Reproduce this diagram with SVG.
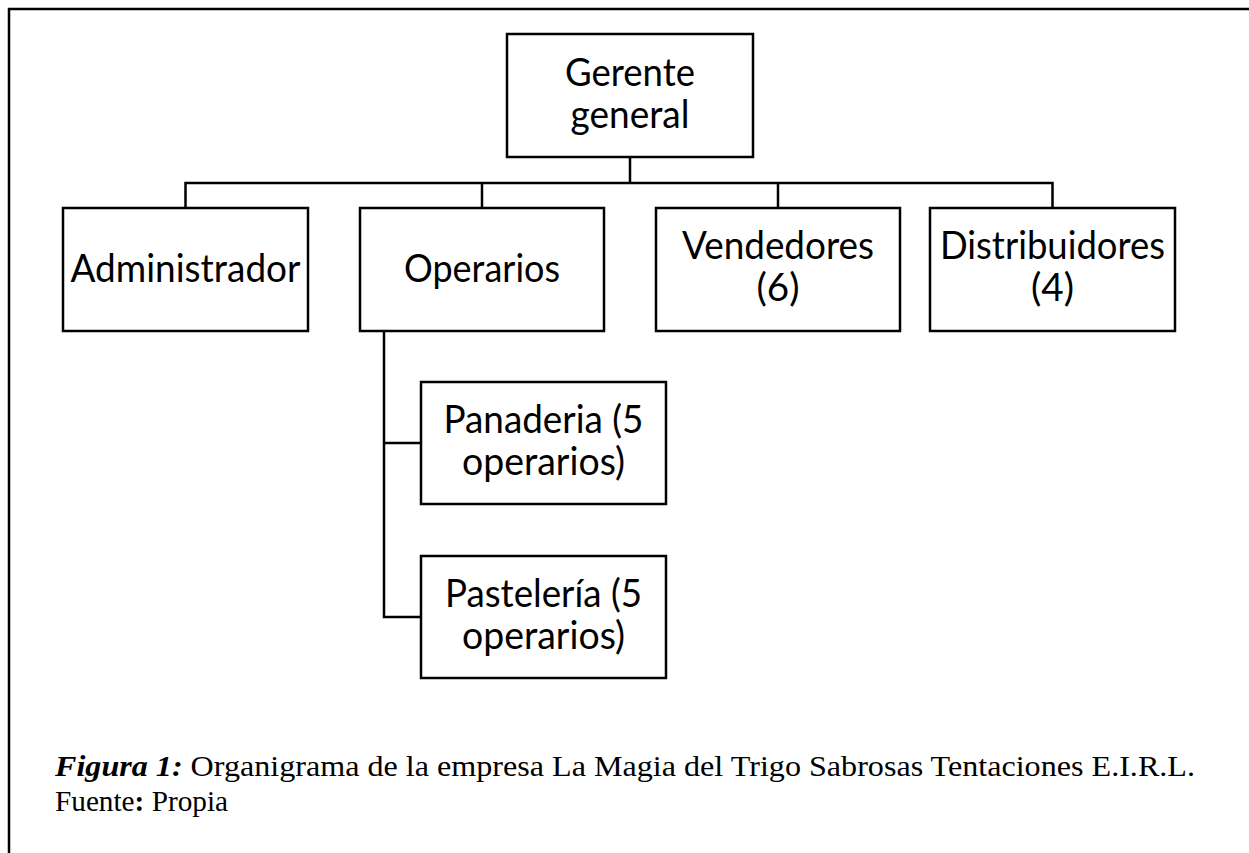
<svg xmlns="http://www.w3.org/2000/svg" width="1249" height="853" viewBox="0 0 1249 853">
<style>
.box{fill:#fff;stroke:#000;stroke-width:2.5}
.lbl{font-family:Lato,"Open Sans","Liberation Sans",sans-serif;font-size:38px;fill:#000;text-anchor:middle}
.con{fill:none;stroke:#000;stroke-width:2.5}
.cap{font-family:"Liberation Serif","Times New Roman",serif;font-size:30px;fill:#000}
</style>
<rect x="0" y="0" width="1249" height="853" fill="#fff"/>
<path d="M9,853 V9 H1249" fill="none" stroke="#000" stroke-width="2.5"/>
<g id="connectors">
<path class="con" d="M630,157 V183"/>
<path class="con" d="M185.5,208 V183 H1052.5 V208"/>
<path class="con" d="M482,183 V208"/>
<path class="con" d="M778,183 V208"/>
<path class="con" d="M384,331 V617 H421"/>
<path class="con" d="M384,443 H421"/>
</g>
<g id="gerente">
<rect class="box" x="507" y="34" width="246" height="123"/>
<text class="lbl" x="630" y="86" textLength="130" lengthAdjust="spacingAndGlyphs">Gerente</text>
<text class="lbl" x="630" y="128" textLength="119" lengthAdjust="spacingAndGlyphs">general</text>
</g>
<g id="administrador">
<rect class="box" x="63" y="208" width="245" height="123"/>
<text class="lbl" x="185.5" y="282" textLength="230" lengthAdjust="spacingAndGlyphs">Administrador</text>
</g>
<g id="operarios">
<rect class="box" x="360" y="208" width="244" height="123"/>
<text class="lbl" x="482" y="282" textLength="156" lengthAdjust="spacingAndGlyphs">Operarios</text>
</g>
<g id="vendedores">
<rect class="box" x="656" y="208" width="244" height="123"/>
<text class="lbl" x="778" y="259" textLength="192" lengthAdjust="spacingAndGlyphs">Vendedores</text>
<text class="lbl" x="778" y="301" textLength="43" lengthAdjust="spacingAndGlyphs">(6)</text>
</g>
<g id="distribuidores">
<rect class="box" x="930" y="208" width="245" height="123"/>
<text class="lbl" x="1052.5" y="259" textLength="225" lengthAdjust="spacingAndGlyphs">Distribuidores</text>
<text class="lbl" x="1052.5" y="301" textLength="43" lengthAdjust="spacingAndGlyphs">(4)</text>
</g>
<g id="panaderia">
<rect class="box" x="421" y="382" width="245" height="122"/>
<text class="lbl" x="543.5" y="433" textLength="200" lengthAdjust="spacingAndGlyphs">Panaderia (5</text>
<text class="lbl" x="543.5" y="475" textLength="163" lengthAdjust="spacingAndGlyphs">operarios)</text>
</g>
<g id="pasteleria">
<rect class="box" x="421" y="556" width="245" height="122"/>
<text class="lbl" x="543.5" y="607" textLength="197" lengthAdjust="spacingAndGlyphs">Pastelería (5</text>
<text class="lbl" x="543.5" y="649" textLength="163" lengthAdjust="spacingAndGlyphs">operarios)</text>
</g>
<g id="caption">
<text class="cap" x="55" y="776" textLength="1140" lengthAdjust="spacingAndGlyphs"><tspan font-weight="bold" font-style="italic">Figura 1:</tspan> Organigrama de la empresa La Magia del Trigo Sabrosas Tentaciones E.I.R.L.</text>
<text class="cap" x="55" y="811" textLength="173" lengthAdjust="spacingAndGlyphs">Fuente<tspan font-weight="bold">:</tspan> Propia</text>
</g>
</svg>
